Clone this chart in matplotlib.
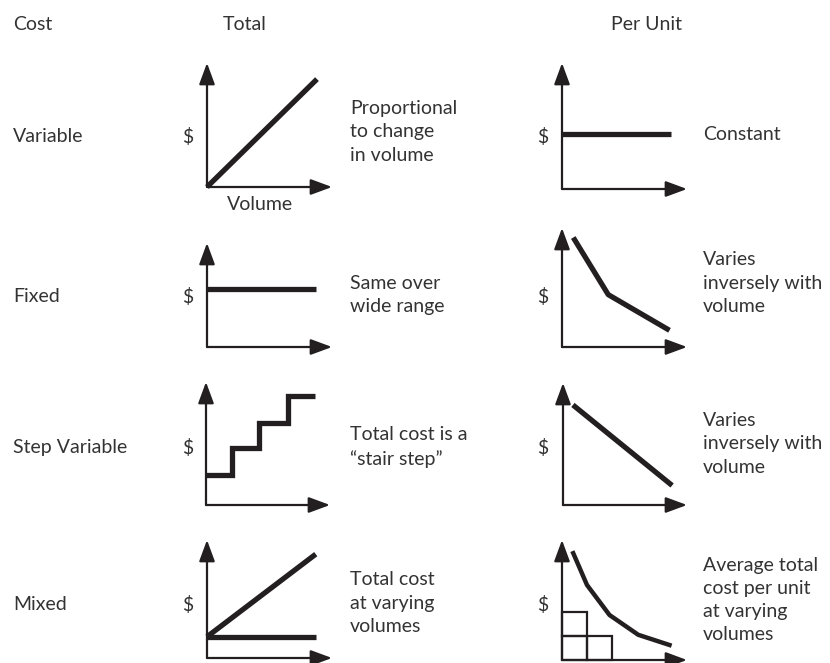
import numpy as np
import matplotlib.pyplot as plt

plt.rcParams['font.family'] = ['Lato', 'DejaVu Sans']

INK = '#231f20'
TXT = '#333333'
W, H = 830, 663

# ---- data (panel units: 0..10 on each axis, 10 = arrow tip) ----
row_labels = ['Variable', 'Fixed', 'Step Variable', 'Mixed']
headers = ['Cost', 'Total', 'Per Unit']

var_total_x = [0, 8.8]
var_total_y = [0, 8.7]
var_unit_x = [0, 8.7]
var_unit_y = [4.4, 4.4]

fix_total_x = [0, 8.7]
fix_total_y = [5.6, 5.6]
fix_unit_x = [0.9, 3.7, 8.6]
fix_unit_y = [9.2, 4.4, 1.4]

step_edges = [0, 2.1, 4.3, 6.6, 8.8]
step_levels = [2.4, 4.6, 6.7, 8.9]
step_unit_x = [0.8, 8.8]
step_unit_y = [8.2, 1.6]

mix_var_x = [0, 8.7]
mix_var_y = [1.8, 8.8]
mix_fix_x = [0, 8.7]
mix_fix_y = [1.8, 1.8]
mix_unit_x = [0.9, 2.0, 3.8, 6.1, 8.6]
mix_unit_y = [8.9, 6.25, 3.75, 2.1, 1.25]
box_x = [1.0, 1.0, 3.0]
box_bottom = [0.0, 2.0, 0.0]
box_h = [2.0, 2.0, 2.0]

total_notes = ['Proportional\nto change\nin volume', 'Same over\nwide range',
               'Total cost is a\n\u201cstair step\u201d', 'Total cost\nat varying\nvolumes']
unit_notes = ['Constant', 'Varies\ninversely with\nvolume',
              'Varies\ninversely with\nvolume',
              'Average total\ncost per unit\nat varying\nvolumes']

# panel frames in pixels: origin x, origin y, arrow tip x, arrow tip y
total_frames = [(207, 187, 332, 63), (207, 347, 332, 243),
                (206, 505, 330, 382), (207, 658, 332, 540)]
unit_frames = [(562, 189, 687, 63), (562, 347, 687, 228),
               (563, 505, 687, 383), (562, 660, 687, 540)]
row_y = [137, 297, 448, 605]
total_note_y = [132, 295, 447, 603]
unit_note_y = [135, 283, 444, 600]

fig = plt.figure(figsize=(W / 100, H / 100), dpi=100)
FS = 14


def px(x, y):
    return x / W, 1 - y / H


def panel(frame):
    ox, oy, xt, yt = frame
    ax = fig.add_axes([ox / W, 1 - oy / H, (xt - ox) / W, (oy - yt) / H])
    ax.set_xlim(0, 10)
    ax.set_ylim(0, 10)
    ax.axis('off')
    arrow = dict(arrowstyle='-|>,head_length=1.3,head_width=0.48',
                 lw=1.6, color=INK, shrinkA=0, shrinkB=0, mutation_scale=10)
    ax.annotate('', xy=(1, 0), xytext=(0, 0), xycoords='axes fraction',
                arrowprops=arrow, annotation_clip=False)
    ax.annotate('', xy=(0, 1), xytext=(0, 0), xycoords='axes fraction',
                arrowprops=arrow, annotation_clip=False)
    return ax


thick = dict(color=INK, lw=3.8, solid_capstyle='butt', clip_on=False)

ax = panel(total_frames[0])
ax.plot(var_total_x, var_total_y, **thick)
ax = panel(unit_frames[0])
ax.plot(var_unit_x, var_unit_y, **thick)

ax = panel(total_frames[1])
ax.plot(fix_total_x, fix_total_y, **thick)
ax = panel(unit_frames[1])
ax.plot(fix_unit_x, fix_unit_y, **thick)

ax = panel(total_frames[2])
ax.stairs(step_levels, step_edges, baseline=None, color=INK, lw=3.8, clip_on=False)
ax = panel(unit_frames[2])
ax.plot(step_unit_x, step_unit_y, **thick)

ax = panel(total_frames[3])
ax.plot(mix_var_x, mix_var_y, **thick)
ax.plot(mix_fix_x, mix_fix_y, **thick)
ax = panel(unit_frames[3])
ax.bar(box_x, box_h, bottom=box_bottom, width=2.0, fill=False,
       edgecolor=INK, lw=1.6, clip_on=False)
ax.plot(mix_unit_x, mix_unit_y, color=INK, lw=3.2, clip_on=False)

# ---- text ----
tk = dict(fontsize=FS, color=TXT)
fig.text(*px(13, 25), headers[0], va='center', **tk)
fig.text(*px(245, 25), headers[1], va='center', ha='center', **tk)
fig.text(*px(646, 25), headers[2], va='center', ha='center', **tk)
fig.text(*px(260, 205), 'Volume', va='center', ha='center', **tk)

for i in range(4):
    fig.text(*px(13, row_y[i]), row_labels[i], va='center', **tk)
    fig.text(*px(188, row_y[i]), '$', va='center', ha='center', **tk)
    fig.text(*px(543, row_y[i]), '$', va='center', ha='center', **tk)
    fig.text(*px(350, total_note_y[i]), total_notes[i], va='center',
             linespacing=1.45, **tk)
    fig.text(*px(703, unit_note_y[i]), unit_notes[i], va='center',
             linespacing=1.45, **tk)

fig.savefig('out.png', dpi=100)
